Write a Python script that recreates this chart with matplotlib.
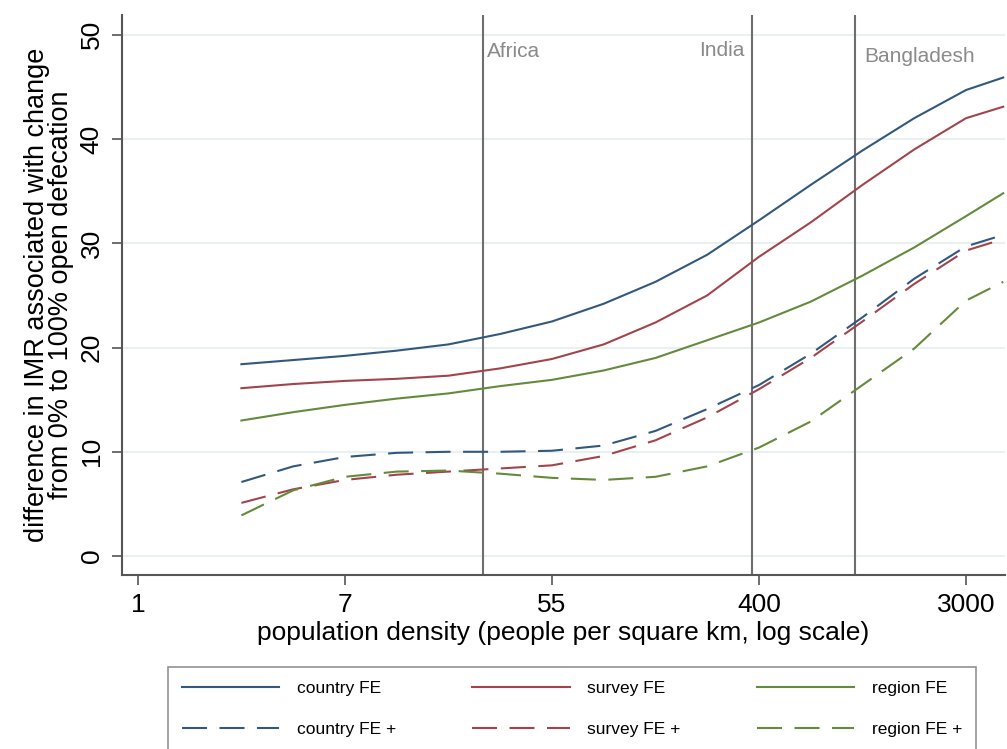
import numpy as np
import matplotlib.pyplot as plt

# log(population density) at which the curves were read
log_density = [1.0, 1.5, 2.0, 2.5, 3.0, 3.5, 4.0, 4.5, 5.0, 5.5, 6.0, 6.5, 7.0, 7.5, 8.0, 8.36]

country_fe = [18.4, 18.8, 19.2, 19.7, 20.3, 21.3, 22.5, 24.2, 26.3, 28.9, 32.2, 35.6, 38.9, 42.0, 44.7, 45.9]
survey_fe = [16.1, 16.5, 16.8, 17.0, 17.3, 18.0, 18.9, 20.3, 22.4, 25.0, 28.7, 32.0, 35.6, 39.0, 42.0, 43.1]
region_fe = [13.0, 13.8, 14.5, 15.1, 15.6, 16.3, 16.9, 17.8, 19.0, 20.7, 22.4, 24.4, 26.9, 29.6, 32.6, 34.8]
country_fe_plus = [7.1, 8.6, 9.5, 9.9, 10.0, 10.0, 10.1, 10.6, 12.0, 14.1, 16.4, 19.4, 22.9, 26.6, 29.7, 30.8]
survey_fe_plus = [5.1, 6.4, 7.3, 7.8, 8.1, 8.4, 8.7, 9.6, 11.1, 13.3, 16.0, 19.0, 22.5, 26.1, 29.3, 30.4]
region_fe_plus = [3.9, 6.3, 7.6, 8.1, 8.2, 7.9, 7.5, 7.3, 7.6, 8.6, 10.4, 12.9, 16.4, 19.9, 24.5, 26.3]

# reference places (log density) and x tick labels
places = ["Africa", "India", "Bangladesh"]
place_logdens = [3.33, 5.93, 6.93]
xtick_labels = ["1", "7", "55", "400", "3000"]
xtick_logdens = [0, 2, 4, 6, 8]

blue = '#33587e'
red = '#a2444c'
green = '#648a3c'

plt.rcParams['font.family'] = ['Liberation Sans', 'DejaVu Sans']

fig = plt.figure(figsize=(10.07, 7.49), dpi=100)
ax = fig.add_axes([0.121, 0.2323, 0.877, 0.7477])

x = np.exp(log_density)
dash = (0, (12, 6))
h1, = ax.plot(x, country_fe, color=blue, lw=1.5, label='country FE')
h2, = ax.plot(x, survey_fe, color=red, lw=1.5, label='survey FE')
h3, = ax.plot(x, region_fe, color=green, lw=1.5, label='region FE')
h4, = ax.plot(x, country_fe_plus, color=blue, lw=1.5, ls=dash, label='country FE +')
h5, = ax.plot(x, survey_fe_plus, color=red, lw=1.5, ls=dash, label='survey FE +')
h6, = ax.plot(x, region_fe_plus, color=green, lw=1.5, ls=dash, label='region FE +')

# vertical reference lines
for p in place_logdens:
    ax.axvline(np.exp(p), color='#6e6e6e', lw=1.5, zorder=1)
ax.text(np.exp(place_logdens[0]) * 1.04, 47.5, places[0], color='#8a8a8a', fontsize=15, va='bottom')
ax.text(np.exp(place_logdens[1]) / 1.07, 47.6, places[1], color='#8a8a8a', fontsize=15, va='bottom', ha='right')
ax.text(np.exp(place_logdens[2]) * 1.09, 47.0, places[2], color='#8a8a8a', fontsize=15, va='bottom')

ax.set_xscale('log')
ax.set_xlim(np.exp(-0.155), np.exp(8.377))
ax.set_ylim(-1.82, 51.9)
ax.set_xticks(np.exp(xtick_logdens))
ax.set_xticklabels(xtick_labels)
ax.minorticks_off()
ax.set_yticks([0, 10, 20, 30, 40, 50])
ax.set_yticklabels(['0', '10', '20', '30', '40', '50'], rotation=90, va='center')
ax.tick_params(axis='both', labelsize=19, length=7, width=1.2, color='#555555', pad=6)
ax.grid(axis='y', color='#e8f0f2', lw=1.5)
ax.set_axisbelow(True)

for s in ['top', 'right']:
    ax.spines[s].set_visible(False)
for s in ['left', 'bottom']:
    ax.spines[s].set_color('#555555')
    ax.spines[s].set_linewidth(1.5)

ax.set_xlabel('population density (people per square km, log scale)', fontsize=19, labelpad=3)
ax.set_ylabel('difference in IMR associated with change\nfrom 0% to 100% open defecation', fontsize=19.5, labelpad=4, linespacing=0.9)

# row-wise order in a column-filled legend
handles = [h1, h4, h2, h5, h3, h6]
leg = fig.legend(handles=handles, labels=[h.get_label() for h in handles],
                 loc='upper left', bbox_to_anchor=(0.167, 0.0, 0.802, 0.11), mode='expand',
                 ncol=3, fontsize=12.5, handlelength=5.6, handletextpad=1.0, frameon=True,
                 fancybox=False, edgecolor='#777777', borderpad=0.8, labelspacing=1.5,
                 borderaxespad=0)
leg.get_frame().set_linewidth(1.2)

fig.savefig('out.png', dpi=100)
